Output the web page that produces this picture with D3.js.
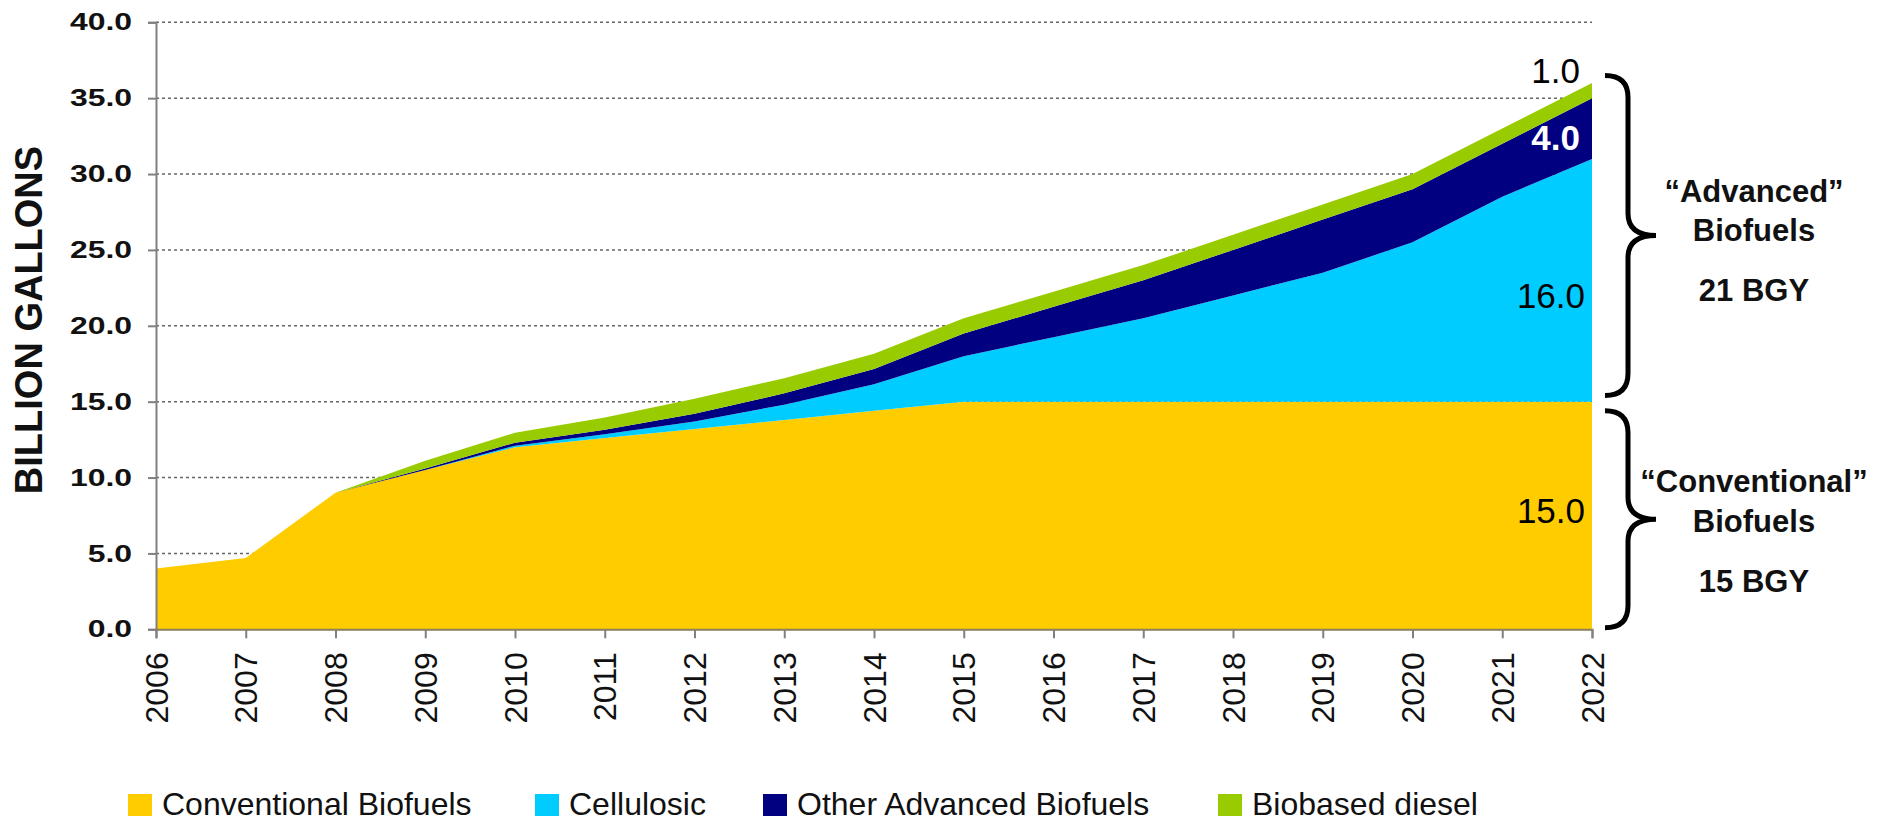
<!DOCTYPE html>
<html>
<head>
<meta charset="utf-8">
<script src="https://cdn.jsdelivr.net/npm/d3@7"></script>
<style>
  body { margin: 0; background: #fff; }
  text { font-family: "Liberation Sans", Arial, sans-serif; }
</style>
</head>
<body>
<div id="chart"></div>
<script>
// RFS volumes, billion gallons
var years = [2006, 2007, 2008, 2009, 2010, 2011, 2012, 2013, 2014, 2015, 2016, 2017, 2018, 2019, 2020, 2021, 2022];
var conventional = [4.0, 4.7, 9.0, 10.5, 12.0, 12.6, 13.2, 13.8, 14.4, 15.0, 15.0, 15.0, 15.0, 15.0, 15.0, 15.0, 15.0];
var cellulosic   = [0, 0, 0, 0, 0.1, 0.25, 0.5, 1.0, 1.75, 3.0, 4.25, 5.5, 7.0, 8.5, 10.5, 13.5, 16.0];
var otherAdv     = [0, 0, 0, 0.1, 0.2, 0.3, 0.5, 0.75, 1.0, 1.5, 2.0, 2.5, 3.0, 3.5, 3.5, 3.5, 4.0];
var biodiesel    = [0, 0, 0, 0.5, 0.65, 0.8, 1.0, 1.0, 1.0, 1.0, 1.0, 1.0, 1.0, 1.0, 1.0, 1.0, 1.0];

var seriesNames = ["Conventional Biofuels", "Cellulosic", "Other Advanced Biofuels", "Biobased diesel"];
var seriesKeys = ["conv", "cell", "other", "bbd"];
var colors = ["#FFCC00", "#00CCFF", "#000080", "#99CC00"];
var yTicks = [0, 5, 10, 15, 20, 25, 30, 35, 40];

// 2022 labels on the right edge
var endLabels = [
  {y: 36.0, text: "1.0", fill: "#000", bold: false},
  {y: 31.6, text: "4.0", fill: "#fff", bold: true},
  {y: 21.2, text: "16.0", fill: "#000", bold: false},
  {y: 7.0, text: "15.0", fill: "#000", bold: false}
];
var braces = [
  {from: 15.4, to: 36.5, lines: ["\u201CAdvanced\u201D", "Biofuels", "21 BGY"]},
  {from: 0.1, to: 14.4, lines: ["\u201CConventional\u201D", "Biofuels", "15 BGY"]}
];

var width = 1899, height = 822;

var svg = d3.select("#chart").append("svg")
  .attr("width", width)
  .attr("height", height);

var x = d3.scaleLinear().domain([2006, 2022]).range([156, 1592]);
var y = d3.scaleLinear().domain([0, 40]).range([629.3, 22.3]);

var table = years.map(function(yr, i) {
  return {year: yr, conv: conventional[i], cell: cellulosic[i], other: otherAdv[i], bbd: biodiesel[i]};
});
var stacked = d3.stack().keys(seriesKeys)(table);

// gridlines
svg.append("g")
  .selectAll("line")
  .data(yTicks.filter(function(d) { return d > 0; }))
  .enter().append("line")
  .attr("x1", 156).attr("x2", 1592)
  .attr("y1", function(d) { return y(d); })
  .attr("y2", function(d) { return y(d); })
  .style("stroke", "#666")
  .style("stroke-width", 1.5)
  .style("stroke-dasharray", "3,3");

var area = d3.area()
  .x(function(d) { return x(d.data.year); })
  .y0(function(d) { return y(d[0]); })
  .y1(function(d) { return y(d[1]); });

svg.append("g")
  .selectAll("path")
  .data(stacked)
  .enter().append("path")
  .attr("d", area)
  .style("fill", function(d, i) { return colors[i]; });

// y axis
var yAxis = svg.append("g")
  .attr("transform", "translate(156,0)")
  .call(d3.axisLeft(y).tickValues(yTicks).tickSize(8).tickFormat(d3.format(".1f")));
yAxis.select(".domain").style("stroke", "#808080").style("stroke-width", 2);
yAxis.selectAll(".tick line").style("stroke", "#808080").style("stroke-width", 2);
yAxis.selectAll(".tick text")
  .attr("x", -18)
  .attr("transform", "scale(1.33,1)")
  .style("font-size", "24px")
  .style("font-weight", "bold")
  .style("fill", "#111");

// x axis
var xAxis = svg.append("g")
  .attr("transform", "translate(0," + y(0) + ")")
  .call(d3.axisBottom(x).tickValues(years).tickSize(9).tickFormat(d3.format("d")));
xAxis.select(".domain").style("stroke", "#8a7f5a").style("stroke-width", 2);
xAxis.selectAll(".tick line").style("stroke", "#808080").style("stroke-width", 2);
xAxis.selectAll(".tick text")
  .attr("transform", "rotate(-90)")
  .attr("x", -23)
  .attr("y", 0)
  .attr("dy", "0.35em")
  .style("text-anchor", "end")
  .style("font-size", "32px")
  .style("fill", "#111");

// y title
svg.append("text")
  .attr("transform", "translate(42,320) rotate(-90)")
  .style("text-anchor", "middle")
  .style("font-size", "38px")
  .style("font-weight", "bold")
  .style("fill", "#111")
  .text("BILLION GALLONS");

// end labels
svg.append("g")
  .selectAll("text")
  .data(endLabels)
  .enter().append("text")
  .attr("x", function(d) { return d.text === "1.0" || d.text === "4.0" ? x(2022) - 12 : x(2022) - 7; })
  .attr("y", function(d) { return y(d.y); })
  .style("text-anchor", "end")
  .style("font-size", "35px")
  .style("font-weight", function(d) { return d.bold ? "bold" : "normal"; })
  .style("fill", function(d) { return d.fill; })
  .text(function(d) { return d.text; });

// braces
function bracePath(y0, y1) {
  var x0 = 1605, xs = 1628, xt = 1656, r = 22;
  var ym = (y0 + y1) / 2;
  return "M" + x0 + "," + y0 +
    " Q" + xs + "," + y0 + " " + xs + "," + (y0 + r) +
    " L" + xs + "," + (ym - r) +
    " Q" + xs + "," + ym + " " + xt + "," + ym +
    " Q" + xs + "," + ym + " " + xs + "," + (ym + r) +
    " L" + xs + "," + (y1 - r) +
    " Q" + xs + "," + y1 + " " + x0 + "," + y1;
}

var braceOffs = [[-34, 5, 65], [-27, 13, 73]];
var bg = svg.append("g").selectAll("g").data(braces).enter().append("g");
bg.append("path")
  .attr("d", function(d) { return bracePath(y(d.to), y(d.from)); })
  .style("fill", "none")
  .style("stroke", "#000")
  .style("stroke-width", 5);
bg.each(function(d, j) {
  var ym = (y(d.to) + y(d.from)) / 2;
  var g = d3.select(this);
  d.lines.forEach(function(t, i) {
    g.append("text")
      .attr("x", 1754)
      .attr("y", ym + braceOffs[j][i])
      .style("text-anchor", "middle")
      .style("font-size", "31px")
      .style("font-weight", "bold")
      .style("fill", "#111")
      .text(t);
  });
});

// legend
var legendX = [128, 535, 763, 1218];
var legend = svg.append("g").attr("transform", "translate(0,794)");
seriesNames.forEach(function(name, i) {
  legend.append("rect")
    .attr("x", legendX[i]).attr("y", 0)
    .attr("width", 24).attr("height", 22)
    .style("fill", colors[i]);
  legend.append("text")
    .attr("x", legendX[i] + 34).attr("y", 21)
    .style("font-size", "32px")
    .style("fill", "#111")
    .text(name);
});
</script>
</body>
</html>
